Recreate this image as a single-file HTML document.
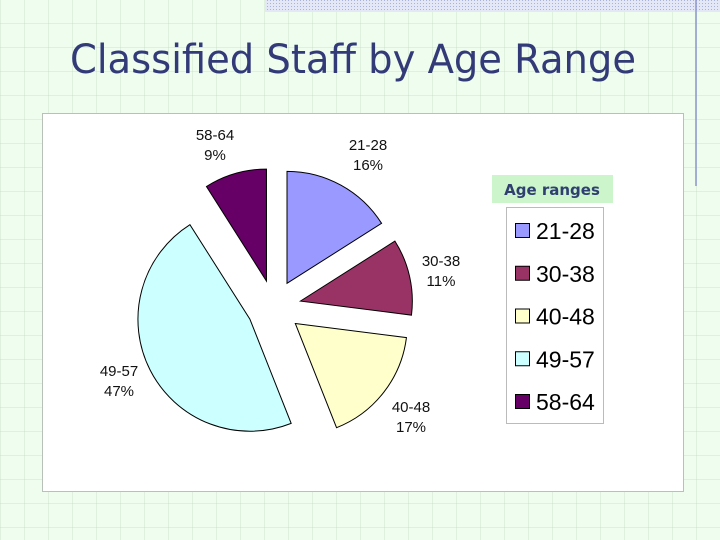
<!DOCTYPE html>
<html><head><meta charset="utf-8"><style>
html,body{margin:0;padding:0;width:720px;height:540px;overflow:hidden}
body{background-color:#eefdee;background-image:linear-gradient(90deg,rgba(180,200,180,.25) 1px,transparent 1px),linear-gradient(0deg,rgba(180,200,180,.25) 1px,transparent 1px);background-size:24px 24px;font-family:"Liberation Sans",sans-serif;position:relative}
svg text{font-family:"Liberation Sans",sans-serif}
</style></head><body>
<svg width="720" height="540" viewBox="0 0 720 540" style="position:absolute;left:0;top:0">
<defs><pattern id="dots" width="3" height="3" patternUnits="userSpaceOnUse"><rect width="3" height="3" fill="#e4e8f6"/><rect width="1" height="1" fill="#a9b2d8"/></pattern></defs>
<rect x="265" y="0" width="455" height="12" fill="url(#dots)"/>
<line x1="696" y1="0" x2="696" y2="186" stroke="#8b95d0" stroke-width="1.5"/>
<text x="353" y="73" text-anchor="middle" style="font-family:'DejaVu Sans Condensed','DejaVu Sans',sans-serif" font-size="40" fill="#333a78" textLength="566" lengthAdjust="spacingAndGlyphs">Classified Staff by Age Range</text>
<rect x="42.5" y="113.5" width="641" height="378" fill="#fff" stroke="#b8c0b8"/>
<g id="pie"></g>
<g id="labels" font-size="15" fill="#111" text-anchor="middle"></g>
<rect x="492" y="175" width="121" height="28" fill="#ccf5cc"/>
<text x="552" y="195" text-anchor="middle" style="font-family:'DejaVu Sans',sans-serif" font-weight="bold" font-size="15" fill="#2f3f70">Age ranges</text>
<rect x="506.5" y="207.5" width="97" height="216" fill="#fff" stroke="#bbb"/>
<g id="legend"></g>
</svg>
<script>
const categories=["21-28","30-38","40-48","49-57","58-64"];
const values=[16,11,17,47,9];
const colors=["#9999ff","#993366","#ffffcc","#ccffff","#660066"];
const NS="http://www.w3.org/2000/svg";
const cx=274,cy=307,r=112,ex=27;
const total=values.reduce((a,b)=>a+b,0);
const pie=document.getElementById('pie'),lab=document.getElementById('labels'),leg=document.getElementById('legend');
const labelPos=[[368,150],[441,266],[411,412],[119,376],[215,140]];
let a0=0;
values.forEach((v,i)=>{
  const a1=a0+v/total*2*Math.PI, am=(a0+a1)/2;
  const ox=cx+ex*Math.sin(am), oy=cy-ex*Math.cos(am);
  const x0=ox+r*Math.sin(a0),y0=oy-r*Math.cos(a0),x1=ox+r*Math.sin(a1),y1=oy-r*Math.cos(a1);
  const p=document.createElementNS(NS,'path');
  p.setAttribute('d',`M${ox},${oy}L${x0},${y0}A${r},${r} 0 ${a1-a0>Math.PI?1:0} 1 ${x1},${y1}Z`);
  p.setAttribute('fill',colors[i]);p.setAttribute('stroke','#000');p.setAttribute('stroke-width','1');
  
  
  pie.appendChild(p);
  const lx=cx+(r+ex+32)*Math.sin(am), ly=cy-(r+ex+32)*Math.cos(am);
  const [tx,ty]=labelPos[i]||[lx,ly];
  const t=document.createElementNS(NS,'text');
  t.setAttribute('x',tx);t.setAttribute('y',ty);
  
  
  t.innerHTML=`<tspan x="${tx}">${categories[i]}</tspan><tspan x="${tx}" dy="20">${Math.round(v/total*100)}%</tspan>`;
  lab.appendChild(t);
  const g=document.createElementNS(NS,'g');
  
  
  const yc=231+i*42.75;
  g.innerHTML=`<rect x="515.5" y="${yc-7.5}" width="14" height="14" fill="${colors[i]}" stroke="#000"/><text x="536" y="${yc+8}" font-size="23" fill="#000">${categories[i]}</text>`;
  leg.appendChild(g);
  a0=a1;
});
</script>
</body></html>
